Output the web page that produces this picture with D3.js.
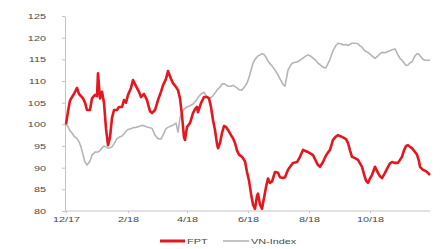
<!DOCTYPE html>
<html><head><meta charset="utf-8">
<script src="https://cdn.jsdelivr.net/npm/d3@7"></script>
<style>html,body{margin:0;padding:0;background:#fff;}svg{display:block;}</style>
</head><body>
<svg id="chart" width="441" height="249"></svg>
<script>
const dates = ["2017-12-01","2017-12-03","2017-12-05","2017-12-07","2017-12-09","2017-12-12","2017-12-14","2017-12-16","2017-12-18","2017-12-20","2017-12-22","2017-12-25","2017-12-27","2017-12-30",
"2018-01-01","2018-01-02","2018-01-04","2018-01-06","2018-01-08","2018-01-10","2018-01-12","2018-01-14","2018-01-16","2018-01-18","2018-01-21","2018-01-23","2018-01-26","2018-01-28","2018-01-30",
"2018-02-01","2018-02-04","2018-02-06","2018-02-09","2018-02-12","2018-02-14","2018-02-17","2018-02-20","2018-02-23","2018-02-25","2018-02-28",
"2018-03-03","2018-03-06","2018-03-08","2018-03-11","2018-03-13","2018-03-16","2018-03-18","2018-03-21","2018-03-23","2018-03-25","2018-03-27","2018-03-29","2018-03-30",
"2018-04-01","2018-04-04","2018-04-07","2018-04-09","2018-04-11","2018-04-12","2018-04-15","2018-04-18","2018-04-21","2018-04-23","2018-04-25","2018-04-27","2018-04-29",
"2018-05-01","2018-05-02","2018-05-04","2018-05-06","2018-05-08","2018-05-10","2018-05-12","2018-05-15","2018-05-17","2018-05-19","2018-05-21","2018-05-23","2018-05-26","2018-05-29","2018-05-31",
"2018-06-02","2018-06-04","2018-06-06","2018-06-08","2018-06-10","2018-06-11","2018-06-13","2018-06-15","2018-06-17","2018-06-19","2018-06-21","2018-06-23","2018-06-25","2018-06-28",
"2018-07-01","2018-07-03","2018-07-06","2018-07-08","2018-07-11","2018-07-14","2018-07-16","2018-07-20","2018-07-23","2018-07-26","2018-07-29","2018-07-31",
"2018-08-03","2018-08-05","2018-08-08","2018-08-10","2018-08-12","2018-08-15","2018-08-18","2018-08-20","2018-08-22","2018-08-25","2018-08-28","2018-08-30",
"2018-09-02","2018-09-04","2018-09-07","2018-09-09","2018-09-11","2018-09-13","2018-09-16","2018-09-19","2018-09-21","2018-09-23","2018-09-25","2018-09-27","2018-09-29",
"2018-10-01","2018-10-03","2018-10-06","2018-10-09","2018-10-11","2018-10-13","2018-10-16","2018-10-19","2018-10-21","2018-10-23","2018-10-26","2018-10-29","2018-10-31",
"2018-11-02","2018-11-04","2018-11-06","2018-11-08","2018-11-10","2018-11-12","2018-11-15","2018-11-17","2018-11-19","2018-11-20","2018-11-23","2018-11-25","2018-11-27","2018-11-30"];

const fpt = [100,103,105.5,106.3,107,108.4,107,106.5,106,105,103.3,103.3,106,106.8,
106.5,111.8,106,107.5,105,99,95.2,97,101.5,103.3,103.3,104,104,105.6,105,
106.8,108.4,110.2,108.8,107.5,106.3,107,105.6,103,102.6,103.3,
105.6,107.5,109,110.5,112.3,110.5,109.5,108.6,107.9,106,102,97,96.4,
99.4,100.3,102.6,103.5,104,102.8,104.9,106.3,106.3,106,104,101,98.7,
95.5,94.5,95.7,98,99.6,99.4,98.7,97.5,96.8,95.7,94,93,92.5,91.5,89,
87,84,81.5,80.5,83.5,84,81.5,80.5,83,85.5,87.5,86.5,86.8,89,
88.8,87.8,87.6,87.8,89.5,90.5,91.1,91.3,92.5,94.1,93.8,93.6,
93.2,92.9,91.5,90.6,90.2,91.3,92.8,93.5,94.1,96.4,97.2,97.5,
97.2,97,96.6,95.7,94,92.5,92.2,91.8,91,90.2,88.5,87,86.5,
87.5,88.3,90.2,88.8,88,87.6,88.8,90.2,91,91.3,91.1,91.1,91.8,
92.5,94,95,95.2,94.8,94.5,93.6,93,91.5,90.2,89.5,89.3,89,88.3];

const vnIndex = [100,99.5,98.5,98,97.3,96.7,96,94.8,93,91.3,90.6,91.5,92.9,93.6,
93.6,93.6,94,94.5,95,94.8,94.5,94.6,94.8,95.5,96.7,97,97.3,97.8,98.4,
98.8,99,99.2,99.3,99.5,99.7,99.7,99.4,99.2,99.1,97.5,
96.7,96.6,97.5,99,99.3,99.6,99.8,100.3,98.2,101.5,102.8,103.5,103.7,
104,104.3,104.7,105.2,105.8,106.2,107,107.4,106.3,106,106.2,106.6,107.2,
107.9,108.2,108.6,109.3,109.4,109.1,108.8,108.8,109,108.7,108.4,108,107.9,108.8,109.5,
110.8,112.5,114.1,115,115.5,115.8,116,116.3,116.1,115.5,114.6,114,113.5,112.5,
111.4,110.5,109.2,108.8,112.5,113.8,114.2,114.4,114.8,115.3,115.8,116,
115.7,115.3,114.7,114.1,113.8,113.2,113,114,115,117,118.2,118.7,
118.6,118.3,118.4,118.2,118.5,118.7,118.7,118.6,118.1,117.8,117.2,116.8,116.6,
116.2,115.8,115.2,115.8,116.3,116.6,116.5,116.8,117,117.2,117.4,116,115.2,
114.8,114.2,113.6,113.7,114.2,114.4,115.8,116.3,116.2,115.8,115,114.8,114.8,114.8];

const yTicks = [80,85,90,95,100,105,110,115,120,125];
const xTickDates = ["2017-12-01","2018-02-01","2018-04-01","2018-06-01","2018-08-01","2018-10-01"];
const xTickLabels = ["12/17","2/18","4/18","6/18","8/18","10/18"];
const seriesNames = ["FPT","VN-Index"];
const seriesColors = ["#e3171d","#b5b5b5"];

const parse = d3.timeParse("%Y-%m-%d");
const svg = d3.select("#chart");
const SX = 1.45;
const axisColor = "#c4c4c4";
const textColor = "#4a4a4a";
const fontFamily = "'Liberation Sans', Arial, sans-serif";

const x = d3.scaleTime().domain([parse(dates[0]), parse(dates[dates.length-1])]).range([66, 430]);
const y = d3.scaleLinear().domain([80, 125]).range([211, 16]);

// Y axis
const yAxis = svg.append("g").attr("transform","translate(65,0)")
  .call(d3.axisLeft(y).tickValues(yTicks).tickSize(3).tickSizeOuter(0).tickFormat(d3.format("d")));
yAxis.select(".domain").attr("stroke", axisColor);
yAxis.selectAll(".tick line").attr("stroke", axisColor);
yAxis.selectAll(".tick text")
  .attr("x", -19/SX).attr("dy","0.35em")
  .attr("transform", `scale(${SX},1)`)
  .attr("fill", textColor).style("font-family", fontFamily).style("font-size","7.5px");

// X axis
const xAxis = svg.append("g").attr("transform","translate(0,211)")
  .call(d3.axisBottom(x).tickValues(xTickDates.map(parse)).tickSize(2).tickSizeOuter(0)
    .tickFormat((d,i) => xTickLabels[i]));
xAxis.select(".domain").attr("stroke", axisColor).attr("d","M65,0H430");
xAxis.selectAll(".tick line").attr("stroke", axisColor);
xAxis.selectAll(".tick text")
  .attr("y", 6).attr("dy","0.71em")
  .attr("transform", `scale(${SX},1)`)
  .attr("fill", textColor).style("font-family", fontFamily).style("font-size","7.5px");

// Lines
const data = [fpt, vnIndex];
const line = d3.line().x((d,i) => x(parse(dates[i]))).y(d => y(d)).curve(d3.curveLinear);
svg.append("path").datum(vnIndex).attr("d", line).attr("fill","none")
  .attr("stroke", seriesColors[1]).attr("stroke-width", 1.6).attr("stroke-linejoin","round");
svg.append("path").datum(fpt).attr("d", line).attr("fill","none")
  .attr("stroke", seriesColors[0]).attr("stroke-width", 2.6).attr("stroke-linejoin","round");

// Legend
const legend = [
  {name: seriesNames[0], color: seriesColors[0], x0: 160, x1: 185, w: 3, tx: 187},
  {name: seriesNames[1], color: seriesColors[1], x0: 223, x1: 249, w: 1.6, tx: 251}
];
const lg = svg.append("g");
legend.forEach(l => {
  lg.append("line").attr("x1", l.x0).attr("x2", l.x1).attr("y1", 241).attr("y2", 241)
    .attr("stroke", l.color).attr("stroke-width", l.w);
  lg.append("text").attr("transform", `translate(${l.tx},241) scale(${SX},1)`)
    .attr("dy","0.35em").attr("fill", textColor)
    .style("font-family", fontFamily).style("font-size","7.5px").text(l.name);
});
</script>
</body></html>
